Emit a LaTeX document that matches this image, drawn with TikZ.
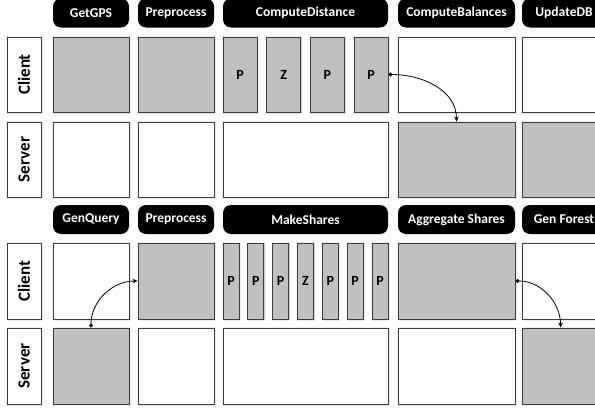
\documentclass[tikz,border=0pt]{standalone}
\usepackage{fontspec}
\setmainfont{Carlito}
\usepackage{xcolor}
\usetikzlibrary{arrows.meta}
\usetikzlibrary{shadows.blur}

\definecolor{busygray}{HTML}{C0C0C0}
\definecolor{edgegray}{HTML}{3C3C3C}

\tikzset{
  stage/.style={fill=black, rounded corners=8pt, text=white, minimum height=29pt,
    inner sep=0pt, font=\fontsize{13.5}{15}\selectfont\bfseries},
  cell/.style={draw=edgegray, fill=white, line width=0.9pt, minimum height=75pt,
    inner sep=0pt, blur shadow={shadow xshift=0.6pt, shadow yshift=-0.6pt,
    shadow blur radius=1.6pt, shadow opacity=35}},
  busy/.style={cell, fill=busygray},
  party/.style={cell, minimum width=34pt, font=\fontsize{17}{19}\selectfont\bfseries},
  share/.style={font=\fontsize{14}{16}\selectfont\bfseries},
  flow/.style={line width=0.8pt, {Circle[length=4pt]}-{Stealth[length=5pt,width=4.5pt]}}
}

\begin{document}
\begin{tikzpicture}[x=1pt, y=-1pt]
\useasboundingbox (0,0) rectangle (595,410);
\clip (0,0) rectangle (595,410);

% first protocol
\node[stage, minimum width=76pt] (gps) at (91,13) {GetGPS};
\node[stage, minimum width=76pt] (pre) at (176,13) {Preprocess};
\node[stage, minimum width=165pt] (dist) at (305.5,13) {ComputeDistance};
\node[stage, minimum width=117pt] (bal) at (456.5,13) {ComputeBalances};
\node[stage, minimum width=84pt] (upd) at (564,13) {UpdateDB};

\node[party, rotate=90, minimum width=75pt, minimum height=34pt] (cli) at (24,74.5) {Client};
\node[party, rotate=90, minimum width=75pt, minimum height=34pt] (srv) at (24,159.5) {Server};

\node[busy, minimum width=76pt] (gps-c) at (91,74.5) {};
\node[cell, minimum width=76pt] (gps-s) at (91,159.5) {};
\node[busy, minimum width=76pt] (pre-c) at (176,74.5) {};
\node[cell, minimum width=76pt] (pre-s) at (176,159.5) {};
\node[busy, share, minimum width=34pt] (cd1) at (240,74.5) {P};
\node[busy, share, minimum width=34pt] (cd2) at (283.7,74.5) {Z};
\node[busy, share, minimum width=34pt] (cd3) at (327.3,74.5) {P};
\node[busy, share, minimum width=34pt] (cd4) at (371,74.5) {P};
\node[cell, minimum width=165pt] (dist-s) at (305.5,159.5) {};
\node[cell, minimum width=117pt] (bal-c) at (456.5,74.5) {};
\node[busy, minimum width=117pt] (bal-s) at (456.5,159.5) {};
\node[cell, minimum width=118pt] (upd-c) at (581,74.5) {};
\node[busy, minimum width=118pt] (upd-s) at (581,159.5) {};

\draw[flow] (cd4.east) to[out=0, in=90] (bal-s.north);

% second protocol
\node[stage, minimum width=76pt] (gq) at (91,219.5) {GenQuery};
\node[stage, minimum width=76pt] (pre2) at (176,219.5) {Preprocess};
\node[stage, minimum width=165pt] (ms) at (305.5,219.5) {MakeShares};
\node[stage, minimum width=117pt] (agg) at (456.5,219.5) {Aggregate Shares};
\node[stage, minimum width=84pt] (gf) at (564,219.5) {Gen Forest};

\node[party, rotate=90, minimum width=76pt, minimum height=34pt] (cli2) at (24,281) {Client};
\node[party, rotate=90, minimum width=76pt, minimum height=34pt] (srv2) at (24,366) {Server};

\node[cell, minimum width=76pt, minimum height=76pt] (gq-c) at (91,281) {};
\node[busy, minimum width=76pt, minimum height=76pt] (gq-s) at (91,366) {};
\node[busy, minimum width=76pt, minimum height=76pt] (pre2-c) at (176,281) {};
\node[cell, minimum width=76pt, minimum height=76pt] (pre2-s) at (176,366) {};
\node[busy, share, minimum width=16pt, minimum height=76pt] (ms1) at (231,281) {P};
\node[busy, share, minimum width=16pt, minimum height=76pt] (ms2) at (255.8,281) {P};
\node[busy, share, minimum width=16pt, minimum height=76pt] (ms3) at (280.7,281) {P};
\node[busy, share, minimum width=16pt, minimum height=76pt] (ms4) at (305.5,281) {Z};
\node[busy, share, minimum width=16pt, minimum height=76pt] (ms5) at (330.3,281) {P};
\node[busy, share, minimum width=16pt, minimum height=76pt] (ms6) at (355.2,281) {P};
\node[busy, share, minimum width=16pt, minimum height=76pt] (ms7) at (380,281) {P};
\node[cell, minimum width=165pt, minimum height=76pt] (ms-s) at (305.5,366) {};
\node[busy, minimum width=117pt, minimum height=76pt] (agg-c) at (456.5,281) {};
\node[cell, minimum width=117pt, minimum height=76pt] (agg-s) at (456.5,366) {};
\node[cell, minimum width=118pt, minimum height=76pt] (gf-c) at (581,281) {};
\node[busy, minimum width=118pt, minimum height=76pt] (gf-s) at (581,366) {};

\draw[flow] (gq-s.north) to[out=90, in=180] (pre2-c.west);
\draw[flow] (agg-c.east) to[out=0, in=90] ([xshift=39pt]gf-s.north west);
\end{tikzpicture}
\end{document}
